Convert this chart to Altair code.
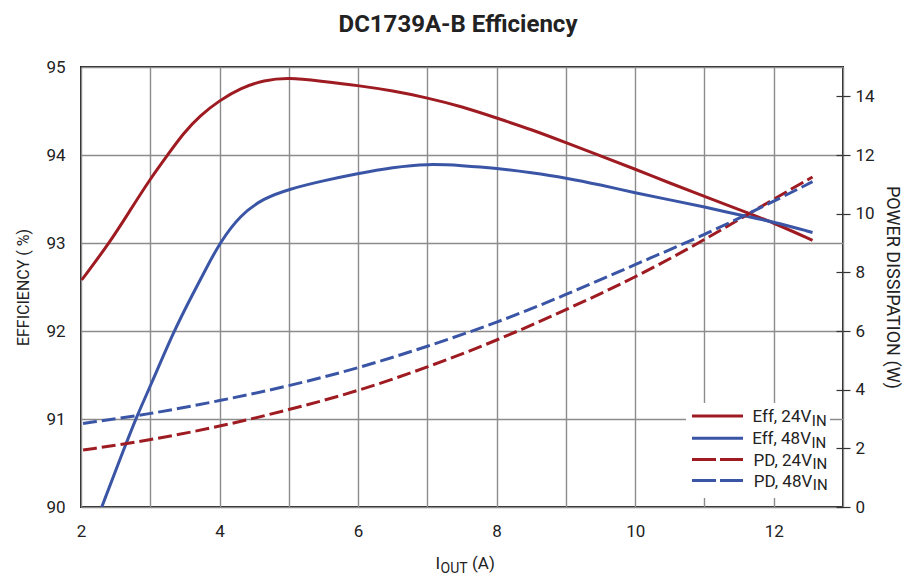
import altair as alt
import pandas as pd

# ---------------- data ----------------
EFF24_X = [2.01, 2.41, 2.7, 3.0, 3.25, 3.48, 3.72, 4.0, 4.3, 4.64, 5.0, 5.45, 6.0,
           6.5, 7.0, 7.5, 8.0, 8.5, 9.0, 9.5, 10.0, 10.5, 11.0, 11.5, 12.0, 12.56]
EFF24_Y = [92.58, 93.00, 93.36, 93.73, 94.00, 94.25, 94.45, 94.62, 94.76, 94.85,
           94.88, 94.84, 94.79, 94.73, 94.65, 94.55, 94.42, 94.29, 94.14, 93.99,
           93.84, 93.68, 93.53, 93.38, 93.23, 93.03]

EFF48_X = [2.30, 2.6, 2.82, 3.0, 3.34, 3.62, 3.8, 4.0, 4.3, 4.64, 5.0, 5.45, 6.0,
           6.5, 7.0, 7.5, 8.0, 8.5, 9.0, 9.5, 10.0, 10.5, 11.0, 11.5, 12.0, 12.56]
EFF48_Y = [90.00, 90.62, 91.06, 91.37, 92.00, 92.43, 92.70, 93.00, 93.32, 93.51,
           93.61, 93.70, 93.79, 93.86, 93.90, 93.88, 93.85, 93.80, 93.74, 93.66,
           93.57, 93.49, 93.41, 93.32, 93.24, 93.12]

PD_X = [2.03, 3, 4, 5, 6, 7, 8, 9, 10, 11, 12, 12.56]
PD24_Y = [1.94, 2.28, 2.74, 3.31, 3.95, 4.76, 5.67, 6.72, 7.82, 9.10, 10.50, 11.25]
PD48_Y = [2.85, 3.17, 3.62, 4.12, 4.73, 5.47, 6.28, 7.23, 8.27, 9.27, 10.42, 11.09]

SERIES_EFF = ["Eff, 24V", "Eff, 48V"]
SERIES_PD = ["PD, 24V", "PD, 48V"]
LEGEND_MAIN = ["Eff, 24V", "Eff, 48V", "PD, 24V", "PD, 48V"]
LEGEND_SUB = "IN"

X_TICKS = list(range(2, 14))
EFF_TICKS = [90, 91, 92, 93, 94, 95]
PD_TICKS = [0, 2, 4, 6, 8, 10, 12, 14]

TITLE = "DC1739A-B Efficiency"
Y_TITLE = "EFFICIENCY ( %)"
Y2_TITLE = "POWER DISSIPATION (W)"
X_TITLE_MAIN = "I"
X_TITLE_SUB = "OUT"
X_TITLE_TAIL = "(A)"

# ---------------- style ----------------
RED = "#9E1B22"
BLUE = "#3A55A5"
TXT = "#222222"
GRID = "#8c8c8c"
FONT = "Roboto"
W, H = 762, 440
INTERP = "basis"


def x_enc():
    return alt.X(
        "x:Q",
        scale=alt.Scale(domain=[2, 13], nice=False, zero=False),
        axis=alt.Axis(
            values=X_TICKS, labelExpr="datum.value % 2 == 0 ? datum.label : ''",
            grid=True, gridColor=GRID, gridWidth=1.4, ticks=False, domain=False,
            labelFontSize=17, labelFont=FONT, labelColor=TXT, labelPadding=16,
            labelFlush=False, labelOverlap=False, title=None,
        ),
    )


eff_df = pd.concat([
    pd.DataFrame({"series": SERIES_EFF[0], "x": EFF24_X, "v": EFF24_Y}),
    pd.DataFrame({"series": SERIES_EFF[1], "x": EFF48_X, "v": EFF48_Y}),
])
pd_df = pd.concat([
    pd.DataFrame({"series": SERIES_PD[0], "x": PD_X, "v": PD24_Y}),
    pd.DataFrame({"series": SERIES_PD[1], "x": PD_X, "v": PD48_Y}),
])

eff_chart = alt.Chart(eff_df).mark_line(strokeWidth=3, interpolate=INTERP, clip=True).encode(
    x=x_enc(),
    y=alt.Y(
        "v:Q",
        scale=alt.Scale(domain=[90, 95], nice=False, zero=False),
        axis=alt.Axis(
            values=EFF_TICKS, grid=True, gridColor=GRID, gridWidth=1.4,
            ticks=False, domain=False, labelFontSize=17, labelFont=FONT,
            labelColor=TXT, labelPadding=16, labelFlush=False,
            title=Y_TITLE, titleFont=FONT, titleFontSize=16,
            titleFontWeight="normal", titleColor=TXT, titlePadding=14,
        ),
    ),
    color=alt.Color("series:N", scale=alt.Scale(domain=SERIES_EFF, range=[RED, BLUE]), legend=None),
    detail="series:N",
)

pd_chart = alt.Chart(pd_df).mark_line(
    strokeWidth=3, interpolate=INTERP, strokeDash=[14, 5], clip=True
).encode(
    x=x_enc(),
    y=alt.Y(
        "v:Q",
        scale=alt.Scale(domain=[0, 15], nice=False, zero=True),
        axis=alt.Axis(
            orient="right", values=PD_TICKS, grid=False, ticks=True,
            tickSize=14, offset=-7, tickColor="#333333", tickWidth=1.2,
            domain=False, labelFontSize=17, labelFont=FONT, labelColor=TXT,
            labelPadding=5, labelFlush=False,
            title=Y2_TITLE, titleFont=FONT, titleFontSize=18,
            titleFontWeight="normal", titleColor=TXT, titlePadding=8,
        ),
    ),
    color=alt.Color("series:N", scale=alt.Scale(domain=SERIES_PD, range=[RED, BLUE]), legend=None),
    detail="series:N",
)

# ---------------- legend (drawn by hand for the subscripts) ----------------
one = pd.DataFrame({"k": [0]})
leg_bg = alt.Chart(one).mark_rect(color="white").encode(
    x=alt.value(605), x2=alt.value(749), y=alt.value(336), y2=alt.value(431)
)
legend_layers = [leg_bg]
ROW_Y = [349, 371.3, 392.5, 413.5]
SUB_X = [730.3, 730.0, 731.0, 731.3]
LEG_COLORS = [RED, BLUE, RED, BLUE]
for i, lab in enumerate(LEGEND_MAIN):
    dash = [24, 4] if i >= 2 else [1, 0]
    legend_layers.append(
        alt.Chart(one).mark_rule(color=LEG_COLORS[i], strokeWidth=3, strokeDash=dash).encode(
            x=alt.value(611), x2=alt.value(662), y=alt.value(ROW_Y[i])
        )
    )
    d = pd.DataFrame({"t": [lab], "s": [LEGEND_SUB]})
    legend_layers.append(
        alt.Chart(d).mark_text(align="right", baseline="alphabetic", fontSize=17,
                               font=FONT, color=TXT).encode(
            text="t:N", x=alt.value(SUB_X[i]), y=alt.value(ROW_Y[i] + 6)
        )
    )
    legend_layers.append(
        alt.Chart(d).mark_text(align="left", baseline="alphabetic", fontSize=15,
                               font=FONT, color=TXT).encode(
            text="s:N", x=alt.value(SUB_X[i] + 0.5), y=alt.value(ROW_Y[i] + 9.5)
        )
    )

# ---------------- x-axis title with subscript ----------------
xt = pd.DataFrame({"a": [X_TITLE_MAIN], "b": [X_TITLE_SUB], "c": [X_TITLE_TAIL]})
xtitle = [
    alt.Chart(xt).mark_text(align="right", baseline="alphabetic", fontSize=17, font=FONT, color=TXT)
    .encode(text="a:N", x=alt.value(359), y=alt.value(502)),
    alt.Chart(xt).mark_text(align="left", baseline="alphabetic", fontSize=14, font=FONT, color=TXT)
    .encode(text="b:N", x=alt.value(359.5), y=alt.value(505.5)),
    alt.Chart(xt).mark_text(align="left", baseline="alphabetic", fontSize=17, font=FONT, color=TXT)
    .encode(text="c:N", x=alt.value(391), y=alt.value(502)),
]

chart = alt.layer(eff_chart, pd_chart, *legend_layers, *xtitle).resolve_scale(
    y="independent", color="independent"
).properties(
    width=W, height=H,
    title=alt.TitleParams(
        TITLE, fontSize=24, fontWeight="bold", font=FONT, color=TXT,
        anchor="middle", frame="group", baseline="alphabetic", offset=2, dx=-4,
    ),
    autosize=alt.AutoSizeParams(type="none"),
    padding={"left": 73, "top": 59, "right": 61, "bottom": 68},
).configure(background="white").configure_view(stroke="#222222", strokeWidth=2)

chart.save("out.html", embed_options={"renderer": "svg", "actions": False})
